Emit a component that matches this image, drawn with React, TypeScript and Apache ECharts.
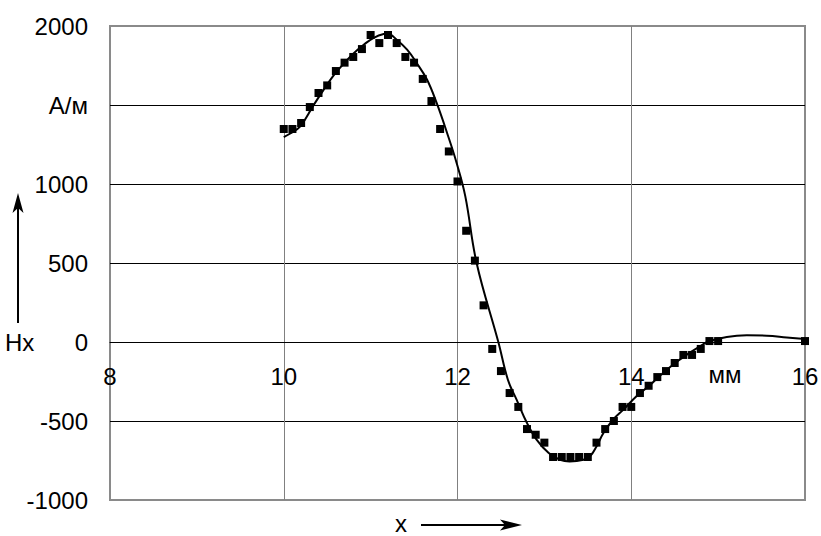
import React, { useEffect, useRef } from "react";
import * as echarts from "echarts";

// Measured field points Hx (А/м) along x (мм)
const measuredX: number[] = [
  10.0, 10.1, 10.2, 10.3, 10.4, 10.5, 10.6, 10.7, 10.8, 10.9,
  11.0, 11.1, 11.2, 11.3, 11.4, 11.5, 11.6, 11.7, 11.8, 11.9,
  12.0, 12.1, 12.2, 12.3, 12.4, 12.5, 12.6, 12.7, 12.8, 12.9,
  13.0, 13.1, 13.2, 13.3, 13.4, 13.5, 13.6, 13.7, 13.8, 13.9,
  14.0, 14.1, 14.2, 14.3, 14.4, 14.5, 14.6, 14.7, 14.8, 14.9,
  15.0, 16.0,
];
const measuredH: number[] = [
  1348, 1348, 1386, 1487, 1576, 1624, 1715, 1768, 1804, 1854,
  1943, 1892, 1943, 1892, 1804, 1768, 1665, 1525, 1348, 1206,
  1016, 704, 515, 232, -44, -184, -323, -411, -551, -587,
  -637, -728, -728, -728, -728, -728, -637, -551, -500, -411,
  -411, -323, -277, -222, -184, -133, -82, -82, -44, 6,
  6, 6,
];

// Calculated curve Hx(x)
const curveX: number[] = [
  10.0, 10.07, 10.19, 10.34, 10.46, 10.57, 10.69, 10.8, 10.92, 11.03,
  11.15, 11.2, 11.3, 11.42, 11.53, 11.65, 11.76, 11.88, 11.99, 12.09,
  12.22, 12.47, 12.58, 12.68, 12.8, 12.91, 13.05, 13.18, 13.29, 13.45,
  13.53, 13.6, 13.68, 13.79, 13.91, 14.06, 14.22, 14.33, 14.48, 14.64,
  14.79, 14.89, 15.1, 15.33, 15.56, 15.79, 16.0,
];
const curveH: number[] = [
  1297, 1318, 1365, 1496, 1597, 1685, 1761, 1825, 1881, 1924,
  1949, 1951, 1913, 1850, 1766, 1660, 1513, 1323, 1133, 922,
  500, 0, -239, -365, -513, -618, -703, -745, -756, -745,
  -720, -661, -576, -492, -428, -344, -270, -213, -144, -80,
  -28, 4, 32, 42, 40, 29, 19,
];

const yTickLabels: Record<number, string> = {
  2000: "2000",
  1500: "А/м",
  1000: "1000",
  500: "500",
  0: "0",
  [-500]: "-500",
  [-1000]: "-1000",
};

const FONT = "'Liberation Sans', Arial, sans-serif";

const GRID_TOP = 26;
const GRID_BOTTOM = 36;
const CHART_H = 536;
const Y_MIN = -1000;
const Y_MAX = 2000;
// shift the x axis from the bottom edge up to the Hx = 0 line
const plotH = CHART_H - GRID_TOP - GRID_BOTTOM;
const xAxisOffset = -plotH * (0 - Y_MIN) / (Y_MAX - Y_MIN);

export default function App() {
  const ref = useRef<HTMLDivElement>(null);

  useEffect(() => {
    if (!ref.current) return;
    const chart = echarts.init(ref.current, undefined, { renderer: "svg" });
    const textStyle = { fontFamily: FONT, fontSize: 24, fill: "#000" };

    chart.setOption({
      animation: false,
      backgroundColor: "#fff",
      grid: {
        left: 110,
        right: 16,
        top: GRID_TOP,
        bottom: GRID_BOTTOM,
        show: true,
        borderColor: "#8a8a8a",
        borderWidth: 2,
        containLabel: false,
        outerBoundsMode: "none",
      },
      xAxis: {
        type: "value",
        min: 8,
        max: 16,
        interval: 2,
        position: "bottom",
        offset: xAxisOffset,
        axisLine: { show: true, onZero: false, lineStyle: { color: "#000", width: 1 } },
        axisTick: { show: false },
        axisLabel: {
          color: "#000",
          fontSize: 24,
          fontFamily: FONT,
          margin: 22,
          showMinLabel: true,
          showMaxLabel: true,
        },
        splitLine: {
          show: true,
          showMinLine: false,
          showMaxLine: false,
          lineStyle: { color: "#808080", width: 1 },
        },
      },
      yAxis: {
        type: "value",
        min: Y_MIN,
        max: Y_MAX,
        interval: 500,
        axisLine: { show: false },
        axisTick: { show: false },
        axisLabel: {
          color: "#000",
          fontSize: 24,
          fontFamily: FONT,
          margin: 22,
          formatter: (v: number) => yTickLabels[v] ?? String(v),
        },
        splitLine: {
          show: true,
          showMinLine: false,
          showMaxLine: false,
          lineStyle: { color: "#000", width: 1 },
        },
      },
      series: [
        {
          name: "curve",
          type: "line",
          data: curveX.map((x, i) => [x, curveH[i]]),
          smooth: 0.4,
          showSymbol: false,
          lineStyle: { color: "#000", width: 2 },
          z: 2,
        },
        {
          name: "points",
          type: "scatter",
          data: measuredX.map((x, i) => [x, measuredH[i]]),
          symbol: "rect",
          symbolSize: 8,
          itemStyle: { color: "#000", opacity: 1 },
          z: 3,
        },
      ],
      graphic: [
        {
          type: "text",
          x: 5,
          y: 342,
          style: { ...textStyle, text: "Hx", textAlign: "left", textVerticalAlign: "middle" },
        },
        {
          type: "text",
          x: 725,
          y: 374,
          style: { ...textStyle, text: "мм", textAlign: "center", textVerticalAlign: "middle" },
        },
        {
          type: "text",
          x: 401,
          y: 523,
          style: {
            ...textStyle,
            text: "x",
            lineHeight: 22,
            textAlign: "center",
            textVerticalAlign: "middle",
          },
        },
        // upward arrow next to Hx
        {
          type: "line",
          shape: { x1: 18, y1: 323, x2: 18, y2: 205 },
          style: { stroke: "#000", lineWidth: 2 },
        },
        {
          type: "polygon",
          shape: { points: [[18, 193], [12.5, 213], [18, 208], [23.5, 213]] },
          style: { fill: "#000" },
        },
        // rightward arrow next to x
        {
          type: "line",
          shape: { x1: 421, y1: 525, x2: 512, y2: 525 },
          style: { stroke: "#000", lineWidth: 2 },
        },
        {
          type: "polygon",
          shape: { points: [[522, 525], [500, 519.5], [505, 525], [500, 530.5]] },
          style: { fill: "#000" },
        },
      ],
    });

    return () => chart.dispose();
  }, []);

  return (
    <div
      ref={ref}
      style={{ position: "fixed", left: 0, top: 0, width: 821, height: 536 }}
    />
  );
}
